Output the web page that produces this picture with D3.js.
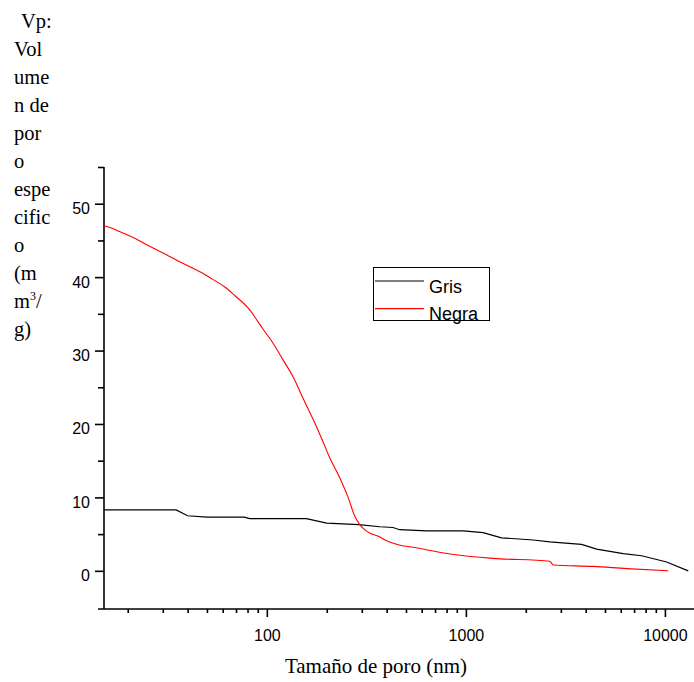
<!DOCTYPE html>
<html lang="es">
<head>
<meta charset="UTF-8">
<title>Volumen de poro</title>
<script src="https://cdn.jsdelivr.net/npm/d3@7"></script>
<style>
    body { margin: 0; background: #fff; }
    svg { display: block; }
    .tick text { font-family: 'Liberation Sans', Arial, sans-serif; font-size: 16px; fill: #000; }
    .tick line { stroke: #000; stroke-width: 1.6px; }
</style>
</head>
<body>
<svg width="694" height="682"></svg>
<script>
    // Gris
    const grisX = [15.2, 35, 40, 50, 77, 82, 158, 200, 290, 370, 430, 465, 635, 970, 1220, 1510, 2180, 2640, 3810, 4540, 6170, 7640, 10200, 13100];
    const grisY = [8.3, 8.3, 7.5, 7.3, 7.3, 7.1, 7.1, 6.5, 6.3, 6.0, 5.9, 5.6, 5.45, 5.45, 5.2, 4.5, 4.2, 3.95, 3.6, 2.95, 2.35, 2.05, 1.2, 0];

    // Negra
    const negraX = [15.2, 16.9, 18.2, 21.7, 25.8, 31.3, 35.8, 41.9, 47.9, 52.7, 61.5, 69, 80.5, 95.8, 107.5, 120.8, 135.6, 152, 171, 192, 207, 233, 256, 277, 293, 317, 370, 400, 457, 544, 831, 1370, 2640, 2750, 4370, 6420, 10400];
    const negraY = [47.0, 46.6, 46.2, 45.3, 44.2, 43.05, 42.2, 41.3, 40.5, 39.8, 38.65, 37.5, 35.8, 32.9, 31.0, 28.7, 26.4, 23.5, 20.6, 17.5, 15.4, 12.6, 10.0, 7.4, 6.3, 5.4, 4.6, 4.1, 3.55, 3.2, 2.3, 1.7, 1.3, 0.8, 0.6, 0.3, 0.0];

    const xMajor = [100, 1000, 10000];
    const xMinor = [20, 30, 40, 50, 60, 70, 80, 90, 200, 300, 400, 500, 600, 700, 800, 900,
                    2000, 3000, 4000, 5000, 6000, 7000, 8000, 9000];
    const yMajor = [0, 10, 20, 30, 40, 50];
    const yMinor = [5, 15, 25, 35, 45, 55];

    const yTitle = ["Vol", "ume", "n de", "por", "o", "espe", "cific", "o", "(m"];
    const xTitle = "Tamaño de poro (nm)";
    const series = [
        { name: "Gris", xs: grisX, ys: grisY, color: "#000", w: 1.2, curve: d3.curveLinear },
        { name: "Negra", xs: negraX, ys: negraY, color: "#ff0000", w: 1.1, curve: d3.curveMonotoneX }
    ];

    const svg = d3.select("svg");

    const x = d3.scaleLog().domain([15.2, 14000]).range([104, 694]);
    const y = d3.scaleLinear().domain([-5.2, 55]).range([609, 167]);

    // eje y
    svg.append("g")
        .attr("transform", "translate(104,0)")
        .call(d3.axisLeft(y).tickValues(yMinor).tickSize(6).tickFormat(""))
        .call(g => g.select(".domain").remove());
    svg.append("g")
        .attr("transform", "translate(104,0)")
        .call(d3.axisLeft(y).tickValues(yMajor).tickSize(9).tickPadding(5).tickFormat(d3.format("d")))
        .call(g => g.select(".domain").remove())
        .call(g => g.selectAll(".tick text").attr("dy", "0.62em").attr("y", 0));

    // eje x
    svg.append("g")
        .attr("transform", "translate(0,609)")
        .call(d3.axisBottom(x).tickValues(xMinor).tickSize(4).tickFormat(""))
        .call(g => g.select(".domain").remove());
    svg.append("g")
        .attr("transform", "translate(0,609)")
        .call(d3.axisBottom(x).tickValues(xMajor).tickSize(8).tickPadding(13).tickFormat(d3.format("d")))
        .call(g => g.select(".domain").remove());

    svg.append("line")
        .attr("x1", 104).attr("x2", 104)
        .attr("y1", y.range()[1]).attr("y2", y.range()[0])
        .attr("stroke", "#000").attr("stroke-width", 1.6);
    svg.append("line")
        .attr("x1", 98).attr("x2", x.range()[1])
        .attr("y1", 609).attr("y2", 609)
        .attr("stroke", "#000").attr("stroke-width", 1.6);

    // curvas
    series.forEach(s => {
        const line = d3.line()
            .curve(s.curve)
            .x(d => x(d[0]))
            .y(d => y(d[1]));
        svg.append("path")
            .datum(d3.zip(s.xs, s.ys))
            .attr("fill", "none")
            .attr("stroke", s.color)
            .attr("stroke-width", s.w)
            .attr("d", line);
    });

    // leyenda
    const legend = svg.append("g");
    legend.append("rect")
        .attr("x", 373.5).attr("y", 267.5)
        .attr("width", 116).attr("height", 53)
        .attr("fill", "#fff").attr("stroke", "#000").attr("stroke-width", 1);
    series.forEach((s, i) => {
        const ly = 281 + i * 27.7;
        legend.append("line")
            .attr("x1", 375).attr("x2", 424)
            .attr("y1", ly).attr("y2", ly)
            .attr("stroke", s.color).attr("stroke-width", 1.2);
        legend.append("text")
            .attr("x", 429).attr("y", ly + 11.5)
            .style("font-family", "'Liberation Sans', Arial, sans-serif")
            .style("font-size", "18px")
            .text(s.name);
    });

    // titulo eje y
    const yt = svg.append("g")
        .style("font-family", "'Liberation Serif', 'Times New Roman', serif")
        .style("font-size", "20.5px");
    yt.append("text").attr("x", 21).attr("y", 27.5).text("Vp:");
    yTitle.forEach((t, i) => {
        yt.append("text").attr("x", 14).attr("y", 27.5 + (i + 1) * 28).text(t);
    });
    const m3 = yt.append("text").attr("x", 14).attr("y", 27.5 + 10 * 28);
    m3.append("tspan").text("m");
    m3.append("tspan").attr("dy", -8).style("font-size", "12px").text("3");
    m3.append("tspan").attr("dy", 8).text("/");
    yt.append("text").attr("x", 14).attr("y", 27.5 + 11 * 28).text("g)");

    // titulo eje x
    svg.append("text")
        .attr("x", 376).attr("y", 673)
        .attr("text-anchor", "middle")
        .style("font-family", "'Liberation Serif', 'Times New Roman', serif")
        .style("font-size", "21px")
        .text(xTitle);
</script>
</body>
</html>
